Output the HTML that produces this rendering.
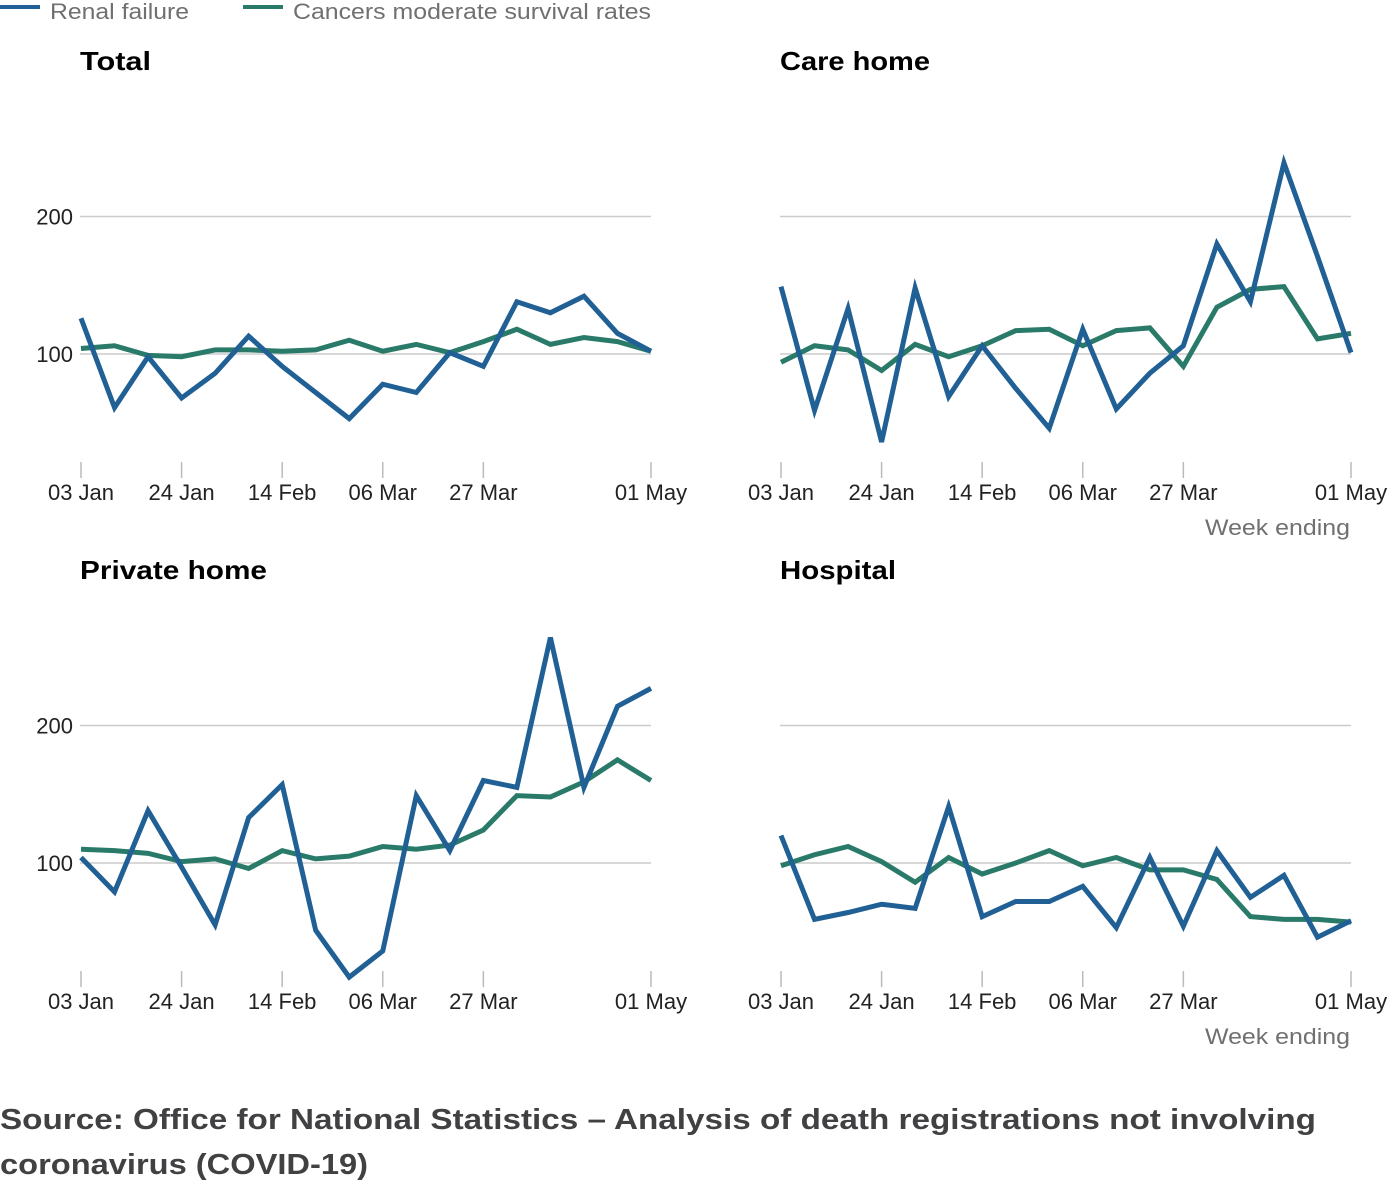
<!DOCTYPE html>
<html><head><meta charset="utf-8"><style>
body{margin:0;background:#fff;width:1392px;height:1181px;overflow:hidden;font-family:"Liberation Sans",sans-serif;}
svg text{font-family:"Liberation Sans",sans-serif;}
</style></head><body>
<svg id="chart" width="1392" height="1181" xmlns="http://www.w3.org/2000/svg">
<g>
<line x1="0" y1="7" x2="40" y2="7" stroke="#206095" stroke-width="4"/>
<text x="50" y="19" font-size="22" fill="#707070" textLength="139" lengthAdjust="spacingAndGlyphs">Renal failure</text>
<line x1="243" y1="7" x2="283" y2="7" stroke="#2a7a6a" stroke-width="4"/>
<text x="293" y="19" font-size="22" fill="#707070" textLength="358" lengthAdjust="spacingAndGlyphs">Cancers moderate survival rates</text>
</g>
<text x="0" y="1129" font-size="29" font-weight="bold" fill="#414042" textLength="1316" lengthAdjust="spacingAndGlyphs">Source: Office for National Statistics – Analysis of death registrations not involving</text>
<text x="0" y="1174" font-size="29" font-weight="bold" fill="#414042" textLength="368" lengthAdjust="spacingAndGlyphs">coronavirus (COVID-19)</text>
</svg>
<script>
const weeks = 18;
const xTickIdx = [0,3,6,9,12,17];
const xTickLabels = ["03 Jan","24 Jan","14 Feb","06 Mar","27 Mar","01 May"];
const yTicks = [100,200];
const totalRenal = [126,61,98,68,86,113,91,72,53,78,72,101,91,138,130,142,115,102];
const totalCancer = [104,106,99,98,103,103,102,103,110,102,107,101,109,118,107,112,109,102];
const careRenal = [149,59,133,36,148,69,106,75,46,118,60,86,106,180,138,239,171,101];
const careCancer = [94,106,103,88,107,98,106,117,118,106,117,119,91,134,147,149,111,115];
const privRenal = [104,79,138,97,55,133,157,51,17,36,149,109,160,155,264,155,214,227];
const privCancer = [110,109,107,101,103,96,109,103,105,112,110,113,124,149,148,159,175,160];
const hospRenal = [120,59,64,70,67,141,61,72,72,83,53,104,54,109,75,91,46,58];
const hospCancer = [98,106,112,101,86,104,92,100,109,98,104,95,95,88,61,59,59,57];

const panels = [
 {name:"total",title:"Total",tw:71,x0:81,y100:354,renal:totalRenal,cancer:totalCancer,yl:true,we:false},
 {name:"care-home",title:"Care home",tw:150,x0:781,y100:354,renal:careRenal,cancer:careCancer,yl:false,we:true},
 {name:"private-home",title:"Private home",tw:187,x0:81,y100:863,renal:privRenal,cancer:privCancer,yl:true,we:false},
 {name:"hospital",title:"Hospital",tw:116,x0:781,y100:863,renal:hospRenal,cancer:hospCancer,yl:false,we:true}
];
const NS="http://www.w3.org/2000/svg";
const svg=document.getElementById('chart');
function mk(t,a,p){const e=document.createElementNS(NS,t);for(const k in a)e.setAttribute(k,a[k]);p.appendChild(e);return e;}
panels.forEach(p=>{
 const g=mk('g',{},svg);
 
 
 const W=570, unit=1.375;
 const xs=i=>p.x0+i*W/(weeks-1);
 const ys=v=>p.y100-(v-100)*unit;
 const t=mk('text',{x:p.x0-1,y:p.y100-284,'font-size':26,'font-weight':'bold',fill:'#000',textLength:p.tw,lengthAdjust:'spacingAndGlyphs'},g);
 t.textContent=p.title;
 
 
 yTicks.forEach(v=>{
  const l=mk('line',{x1:p.x0-1,x2:p.x0+W,y1:ys(v),y2:ys(v),stroke:'#cccccc','stroke-width':1.5},g);
  
  
  if(p.yl){const tx=mk('text',{x:73,y:ys(v)+8,'font-size':22,'text-anchor':'end',fill:'#222'},g);tx.textContent=v;
   
   }
 });
 const base=p.y100+108;
 xTickIdx.forEach((ix,k)=>{
  const tl=mk('line',{x1:xs(ix),x2:xs(ix),y1:base,y2:base+16,stroke:'#bbbbbb','stroke-width':1.5},g);
  
  
  const tx=mk('text',{x:xs(ix),y:base+38,'font-size':22,'text-anchor':'middle',fill:'#222'},g);
  tx.textContent=xTickLabels[k];
  
  
 });
 if(p.we){const w=mk('text',{x:p.x0+569,y:base+73,'font-size':22,'text-anchor':'end',fill:'#707070',textLength:145,lengthAdjust:'spacingAndGlyphs'},g);w.textContent='Week ending';
  
  }
 [[p.cancer,'#2a7a6a','cancer-line'],[p.renal,'#206095','renal-line']].forEach(([d,c,n])=>{
  const pl=mk('polyline',{points:d.map((v,i)=>xs(i)+','+ys(v)).join(' '),fill:'none',stroke:c,'stroke-width':5,'stroke-linejoin':'miter'},g);
  
  
 });
});
</script>
</body></html>
